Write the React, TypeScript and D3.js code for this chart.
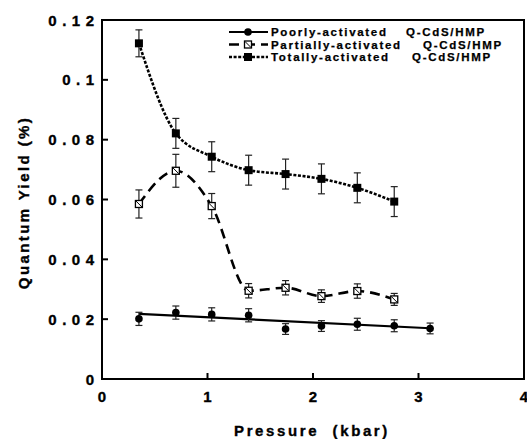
import React from "react";
import * as d3 from "d3";

const pressure = [0.35, 0.7, 1.04, 1.39, 1.74, 2.08, 2.42, 2.77, 3.11];
const poorly = [0.0201, 0.0222, 0.0216, 0.0213, 0.0167, 0.0177, 0.0183, 0.0178, 0.0169];
const poorlyErr = [0.0022, 0.0022, 0.0022, 0.0022, 0.0018, 0.0018, 0.002, 0.002, 0.0018];
const partially = [0.0585, 0.0696, 0.0578, 0.0295, 0.0305, 0.0277, 0.0294, 0.0266];
const partiallyErr = [0.0047, 0.0055, 0.0042, 0.0024, 0.0024, 0.0021, 0.0024, 0.002];
const totally = [0.1122, 0.0821, 0.0743, 0.0698, 0.0685, 0.0669, 0.0639, 0.0593];
const totallyErr = [0.0045, 0.005, 0.005, 0.005, 0.005, 0.005, 0.005, 0.005];
const fitIntercept = 0.0224;
const fitSlope = -0.00175;

const xTicks = [0, 1, 2, 3, 4];
const yTicks = [0, 0.02, 0.04, 0.06, 0.08, 0.1, 0.12];
const yTickLabels = ["0", "0.02", "0.04", "0.06", "0.08", "0.1", "0.12"];
const legendNames = ["Poorly-activated", "Partially-activated", "Totally-activated"];
const legendSuffix = "Q-CdS/HMP";

const W = 527, H = 439;
const L = 102, R = 524, T = 20, B = 379;
const FONT = "'Liberation Sans', Arial, Helvetica, sans-serif";

export default function App() {
  const x = d3.scaleLinear().domain([0, 4]).range([L, R]);
  const y = d3.scaleLinear().domain([0, 0.12]).range([B, T]);

  const curve = d3.line<[number, number]>().x(d => x(d[0])).y(d => y(d[1])).curve(d3.curveMonotoneX);
  const straight = d3.line<[number, number]>().x(d => x(d[0])).y(d => y(d[1]));

  const totPts: [number, number][] = totally.map((v, i) => [pressure[i], v]);
  const parPts: [number, number][] = partially.map((v, i) => [pressure[i], v]);
  const poorPts: [number, number][] = poorly.map((v, i) => [pressure[i], v]);
  const p0 = pressure[0], p1 = pressure[pressure.length - 1];
  const fitPts: [number, number][] = [[p0, fitIntercept + fitSlope * p0], [p1, fitIntercept + fitSlope * p1]];

  const errBars = (pts: [number, number][], errs: number[], key: string) =>
    pts.map((p, i) => {
      const cx = x(p[0]);
      const y1 = y(p[1] + errs[i]);
      const y2 = y(p[1] - errs[i]);
      return (
        <g key={key + i} stroke="#222" strokeWidth={1.2}>
          <line x1={cx} x2={cx} y1={y1} y2={y2} />
          <line x1={cx - 3.5} x2={cx + 3.5} y1={y1} y2={y1} />
          <line x1={cx - 3.5} x2={cx + 3.5} y1={y2} y2={y2} />
        </g>
      );
    });

  const filledSquare = (cx: number, cy: number, k: string) => (
    <rect key={k} x={cx - 4} y={cy - 4} width={8} height={8} fill="#000" />
  );
  const openSquare = (cx: number, cy: number, k: string) => (
    <g key={k}>
      <rect x={cx - 3.5} y={cy - 3.5} width={7} height={7} fill="#fff" stroke="#000" strokeWidth={1.3} />
      <line x1={cx - 3} y1={cy - 3} x2={cx + 3} y2={cy + 3} stroke="#000" strokeWidth={1} />
    </g>
  );
  const circle = (cx: number, cy: number, k: string) => (
    <circle key={k} cx={cx} cy={cy} r={3.8} fill="#000" />
  );

  const dashPar = "10,6";
  const dashTot = "3,1.6";
  const legendY = [32, 44.5, 57];
  const suffixX = [406, 423, 412];
  const lx1 = 229, lx2 = 268, lm = 248;

  return (
    <svg width={W} height={H} style={{ position: "absolute", left: 0, top: 0, background: "#fff" }} fontFamily={FONT} fontWeight="bold">
      <rect x={0} y={0} width={W} height={H} fill="#fff" />
      {/* frame */}
      <rect x={L} y={T} width={R - L} height={B - T} fill="none" stroke="#000" strokeWidth={2} />
      {/* ticks */}
      {xTicks.slice(1, -1).map(t => (
        <line key={"xt" + t} x1={x(t)} x2={x(t)} y1={B} y2={B - 6} stroke="#000" strokeWidth={2} />
      ))}
      {yTicks.slice(1, -1).map(t => (
        <line key={"yt" + t} x1={L} x2={L + 6} y1={y(t)} y2={y(t)} stroke="#000" strokeWidth={2} />
      ))}
      <g stroke="#000" strokeWidth={0.35}>
        {/* tick labels */}
        {xTicks.map(t => (
          <text key={"xl" + t} x={x(t)} y={396} fontSize={15} textAnchor="middle" dominantBaseline="central">{t}</text>
        ))}
        {yTicks.map((t, i) => (
          <text key={"yl" + t} x={94} y={y(t)} fontSize={15} textAnchor="end" dominantBaseline="central" letterSpacing={5.5} dx={5.5}>{yTickLabels[i]}</text>
        ))}
        {/* axis titles */}
        <text x={312} y={430} fontSize={15} textAnchor="middle" dominantBaseline="central" letterSpacing={2.6} style={{ whiteSpace: "pre" }}>{"Pressure  (kbar)"}</text>
        <text transform={`translate(23,${(T + B) / 2 + 3}) rotate(-90)`} fontSize={15} textAnchor="middle" dominantBaseline="central" letterSpacing={2.4} style={{ whiteSpace: "pre" }}>{"Quantum Yield (%)"}</text>
      </g>

      {/* lines */}
      <path d={straight(fitPts) || ""} fill="none" stroke="#000" strokeWidth={2.2} />
      <path d={curve(parPts) || ""} fill="none" stroke="#000" strokeWidth={2.6} strokeDasharray={dashPar} />
      <path d={curve(totPts) || ""} fill="none" stroke="#000" strokeWidth={2.6} strokeDasharray={dashTot} />

      {/* error bars */}
      {errBars(poorPts, poorlyErr, "eb1")}
      {errBars(parPts, partiallyErr, "eb2")}
      {errBars(totPts, totallyErr, "eb3")}

      {/* markers */}
      {poorPts.map((p, i) => circle(x(p[0]), y(p[1]), "c" + i))}
      {parPts.map((p, i) => openSquare(x(p[0]), y(p[1]), "o" + i))}
      {totPts.map((p, i) => filledSquare(x(p[0]), y(p[1]), "s" + i))}

      {/* legend */}
      <g>
        <line x1={lx1} x2={lx2} y1={legendY[0]} y2={legendY[0]} stroke="#000" strokeWidth={2.2} />
        {circle(lm, legendY[0], "lg0")}
        <line x1={lx1} x2={lx2} y1={legendY[1]} y2={legendY[1]} stroke="#000" strokeWidth={2.6} strokeDasharray={dashPar} />
        {openSquare(lm, legendY[1], "lg1")}
        <line x1={lx1} x2={lx2} y1={legendY[2]} y2={legendY[2]} stroke="#000" strokeWidth={2.6} strokeDasharray={dashTot} />
        {filledSquare(lm, legendY[2], "lg2")}
        <g stroke="#000" strokeWidth={0.25}>
          {legendNames.map((lab, i) => (
            <text key={"lt" + i} x={271} y={legendY[i]} fontSize={11.5} dominantBaseline="central" letterSpacing={1.7}>{lab}</text>
          ))}
          {legendNames.map((lab, i) => (
            <text key={"ls" + i} x={suffixX[i]} y={legendY[i]} fontSize={11.5} dominantBaseline="central" letterSpacing={1.7}>{legendSuffix}</text>
          ))}
        </g>
      </g>
    </svg>
  );
}
